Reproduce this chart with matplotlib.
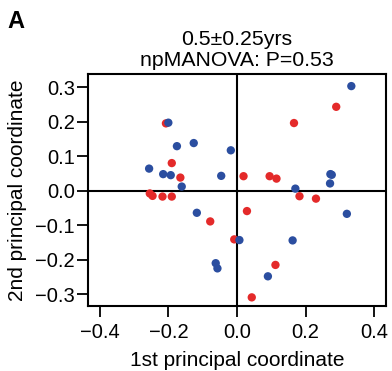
import matplotlib.pyplot as plt

plt.rcParams["font.family"] = ["Liberation Sans", "DejaVu Sans"]

# group 1 (red)
red_x = [-0.207, -0.190, -0.165, -0.254, -0.246, -0.217, -0.190, 0.289, 0.166,
         0.019, 0.095, 0.115, 0.182, 0.230, -0.078, -0.008, 0.029, 0.112, 0.043]
red_y = [0.195, 0.080, 0.038, -0.008, -0.015, -0.017, -0.017, 0.243, 0.196,
         0.042, 0.042, 0.035, -0.016, -0.023, -0.089, -0.141, -0.059, -0.215, -0.309]

# group 2 (blue)
blue_x = [-0.200, -0.126, -0.175, -0.018, -0.256, -0.215, -0.193, -0.046, -0.161,
          0.333, 0.272, 0.276, 0.271, 0.170, -0.117, 0.007, -0.062, -0.057,
          0.162, 0.320, 0.090]
blue_y = [0.197, 0.138, 0.129, 0.117, 0.064, 0.048, 0.045, 0.043, 0.012,
          0.303, 0.048, 0.046, 0.021, 0.006, -0.064, -0.143, -0.210, -0.225,
          -0.144, -0.067, -0.248]

xticks = [-0.4, -0.2, 0.0, 0.2, 0.4]
yticks = [-0.3, -0.2, -0.1, 0.0, 0.1, 0.2, 0.3]

fig = plt.figure(figsize=(3.92, 3.71), dpi=100)
ax = fig.add_axes([0.2245, 0.1752, 0.7602, 0.6253])

ax.axhline(0, color="black", lw=1.5, zorder=1)
ax.axvline(0, color="black", lw=1.5, zorder=1)
ax.scatter(red_x, red_y, s=36, color="#E42A2A", edgecolors="none", zorder=3)
ax.scatter(blue_x, blue_y, s=36, color="#2B4EA0", edgecolors="none", zorder=3)

ax.set_xlim(-0.434, 0.434)
ax.set_ylim(-0.334, 0.338)
ax.set_xticks(xticks)
ax.set_yticks(yticks)
ax.set_xticklabels(["\u22120.4", "\u22120.2", "0.0", "0.2", "0.4"])
ax.set_yticklabels(["\u22120.3", "\u22120.2", "\u22120.1", "0.0", "0.1", "0.2", "0.3"])
ax.tick_params(length=8, width=1.3, labelsize=14.5, pad=1.5)
ax.tick_params(axis="x", pad=4)
for sp in ax.spines.values():
    sp.set_linewidth(1.5)

ax.set_xlabel("1st principal coordinate", fontsize=15, labelpad=7)
ax.set_ylabel("2nd principal coordinate", fontsize=15, labelpad=6)
ax.set_title("0.5\u00b10.25yrs\nnpMANOVA: P=0.53", fontsize=15.3, linespacing=1.1, pad=6)

fig.text(0.02, 0.925, "A", fontsize=17, fontweight="bold")

fig.savefig("out.png", dpi=100)
